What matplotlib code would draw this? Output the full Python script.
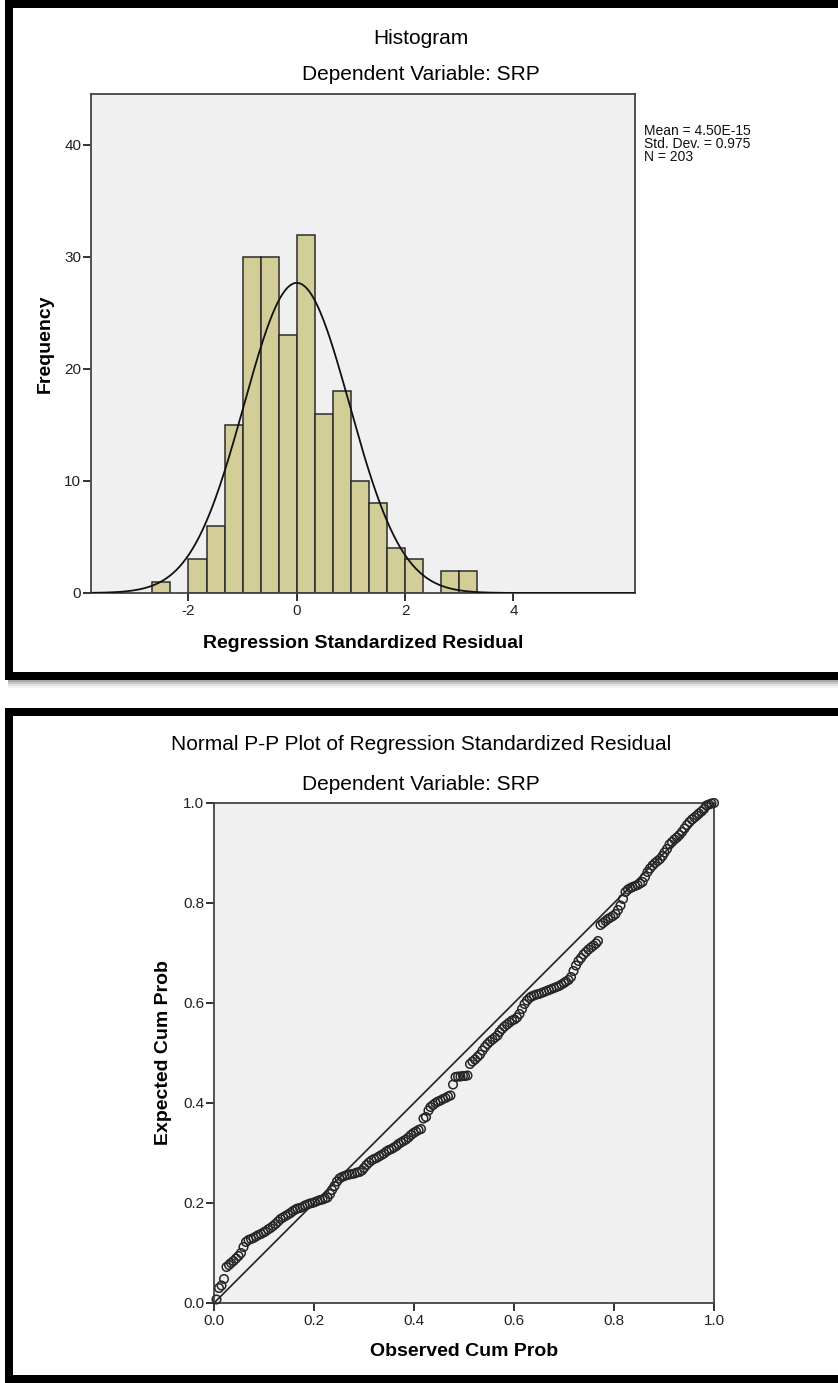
import matplotlib
matplotlib.use("Agg")
import matplotlib.pyplot as plt
from matplotlib.patches import Rectangle
from matplotlib.ticker import FormatStrFormatter
import numpy as np

plt.rcParams["font.family"] = ["Liberation Sans", "DejaVu Sans"]
plt.rcParams["axes.unicode_minus"] = False

W, H = 838, 1383

# --- histogram of regression standardized residual ---
bin_width = 1 / 3
bin_left = [-2.667, -2.333, -2.0, -1.667, -1.333, -1.0, -0.667, -0.333, 0.0,
            0.333, 0.667, 1.0, 1.333, 1.667, 2.0, 2.333, 2.667, 3.0]
counts = [1, 0, 3, 6, 15, 30, 30, 23, 32, 16, 18, 10, 8, 4, 3, 0, 2, 2]
res_mean = 4.50e-15
res_std = 0.975
n_cases = 203
hist_xticks = [-2, 0, 2, 4]
hist_yticks = [0, 10, 20, 30, 40]

# --- normal P-P plot points ---
obs_cum_prob = [
    0.005, 0.010, 0.015, 0.020, 0.025, 0.030, 0.034, 0.039, 0.044, 0.049,
    0.054, 0.059, 0.064, 0.069, 0.074, 0.079, 0.084, 0.089, 0.094, 0.099,
    0.103, 0.108, 0.113, 0.118, 0.123, 0.128, 0.133, 0.138, 0.143, 0.148,
    0.153, 0.158, 0.163, 0.167, 0.172, 0.177, 0.182, 0.187, 0.192, 0.197,
    0.202, 0.207, 0.212, 0.217, 0.222, 0.227, 0.232, 0.236, 0.241, 0.246,
    0.251, 0.256, 0.261, 0.266, 0.271, 0.276, 0.281, 0.286, 0.291, 0.296,
    0.300, 0.305, 0.310, 0.315, 0.320, 0.325, 0.330, 0.335, 0.340, 0.345,
    0.350, 0.355, 0.360, 0.365, 0.369, 0.374, 0.379, 0.384, 0.389, 0.394,
    0.399, 0.404, 0.409, 0.414, 0.419, 0.424, 0.429, 0.433, 0.438, 0.443,
    0.448, 0.453, 0.458, 0.463, 0.468, 0.473, 0.478, 0.483, 0.488, 0.493,
    0.498, 0.502, 0.507, 0.512, 0.517, 0.522, 0.527, 0.532, 0.537, 0.542,
    0.547, 0.552, 0.557, 0.562, 0.567, 0.571, 0.576, 0.581, 0.586, 0.591,
    0.596, 0.601, 0.606, 0.611, 0.616, 0.621, 0.626, 0.631, 0.635, 0.640,
    0.645, 0.650, 0.655, 0.660, 0.665, 0.670, 0.675, 0.680, 0.685, 0.690,
    0.695, 0.700, 0.704, 0.709, 0.714, 0.719, 0.724, 0.729, 0.734, 0.739,
    0.744, 0.749, 0.754, 0.759, 0.764, 0.768, 0.773, 0.778, 0.783, 0.788,
    0.793, 0.798, 0.803, 0.808, 0.813, 0.818, 0.823, 0.828, 0.833, 0.837,
    0.842, 0.847, 0.852, 0.857, 0.862, 0.867, 0.872, 0.877, 0.882, 0.887,
    0.892, 0.897, 0.901, 0.906, 0.911, 0.916, 0.921, 0.926, 0.931, 0.936,
    0.941, 0.946, 0.951, 0.956, 0.961, 0.966, 0.970, 0.975, 0.980, 0.985,
    0.990, 0.995, 1.000,
]
exp_cum_prob = [
    0.007, 0.030, 0.035, 0.048, 0.072, 0.076, 0.080, 0.084, 0.089, 0.094,
    0.100, 0.112, 0.122, 0.126, 0.128, 0.130, 0.133, 0.136, 0.138, 0.141,
    0.143, 0.147, 0.150, 0.154, 0.158, 0.163, 0.168, 0.171, 0.174, 0.177,
    0.180, 0.184, 0.187, 0.189, 0.190, 0.192, 0.195, 0.197, 0.199, 0.200,
    0.202, 0.204, 0.206, 0.207, 0.209, 0.211, 0.218, 0.226, 0.234, 0.243,
    0.249, 0.252, 0.254, 0.256, 0.257, 0.258, 0.259, 0.261, 0.262, 0.265,
    0.270, 0.276, 0.281, 0.285, 0.288, 0.290, 0.293, 0.296, 0.299, 0.303,
    0.306, 0.308, 0.311, 0.314, 0.318, 0.321, 0.324, 0.327, 0.331, 0.336,
    0.340, 0.343, 0.346, 0.348, 0.369, 0.372, 0.385, 0.392, 0.396, 0.400,
    0.403, 0.405, 0.408, 0.410, 0.413, 0.415, 0.437, 0.452, 0.453, 0.453,
    0.454, 0.454, 0.455, 0.478, 0.483, 0.487, 0.492, 0.497, 0.505, 0.512,
    0.518, 0.523, 0.527, 0.531, 0.535, 0.542, 0.548, 0.553, 0.557, 0.561,
    0.565, 0.567, 0.571, 0.578, 0.588, 0.598, 0.605, 0.610, 0.613, 0.615,
    0.617, 0.618, 0.620, 0.622, 0.624, 0.626, 0.628, 0.630, 0.632, 0.634,
    0.637, 0.640, 0.643, 0.646, 0.652, 0.664, 0.675, 0.684, 0.690, 0.697,
    0.702, 0.707, 0.711, 0.715, 0.719, 0.724, 0.756, 0.760, 0.764, 0.768,
    0.771, 0.774, 0.778, 0.786, 0.795, 0.808, 0.822, 0.827, 0.830, 0.832,
    0.834, 0.836, 0.839, 0.842, 0.852, 0.862, 0.869, 0.875, 0.880, 0.884,
    0.888, 0.894, 0.901, 0.908, 0.917, 0.922, 0.927, 0.931, 0.936, 0.942,
    0.949, 0.956, 0.962, 0.967, 0.971, 0.975, 0.979, 0.983, 0.988, 0.995,
    0.997, 0.999, 1.000,
]
pp_ticks = [0.0, 0.2, 0.4, 0.6, 0.8, 1.0]

BAR_COLOR = "#d3ce98"
PLOT_BG = "#f0f0f0"
FRAME = "#444444"


def px_rect(left, top, right, bottom):
    """Pixel box (origin at top left) to figure fraction rect."""
    return [left / W, 1 - bottom / H, (right - left) / W, (bottom - top) / H]


def px_text(x, y, s, **kw):
    fig.text(x / W, 1 - y / H, s, **kw)


def black_box(left, top, right, bottom, thick):
    for r in [(left, top, right, top + thick),
              (left, top, left + thick, bottom),
              (left, bottom - thick, right, bottom)]:
        fig.patches.append(Rectangle((r[0] / W, 1 - r[3] / H),
                                     (r[2] - r[0]) / W, (r[3] - r[1]) / H,
                                     transform=fig.transFigure,
                                     facecolor="black", edgecolor="none"))


def style_axes(ax):
    ax.set_facecolor(PLOT_BG)
    for sp in ax.spines.values():
        sp.set_color(FRAME)
        sp.set_linewidth(1.3)
    ax.tick_params(direction="out", length=6, width=1.3, pad=1,
                   labelsize=11, color="#222222", labelcolor="#222222",
                   top=False, right=False)
    ax.tick_params(axis="x", pad=2)


fig = plt.figure(figsize=(W / 100, H / 100), dpi=100)
fig.patch.set_facecolor("white")

# panel frames and their soft shadow
black_box(5, 0, 860, 680, 8)
black_box(5, 708, 860, 1383, 8)
for k, a in enumerate([0.35, 0.22, 0.12, 0.05]):
    fig.patches.append(Rectangle((8 / W, 1 - (682 + 2 * k) / H), 852 / W, 2 / H,
                                 transform=fig.transFigure,
                                 facecolor="black", alpha=a, edgecolor="none"))

# ---------------- histogram ----------------
ax1 = fig.add_axes(px_rect(91, 94, 635, 593))
style_axes(ax1)
left_nz = [l for l, c in zip(bin_left, counts) if c > 0]
cnt_nz = [c for c in counts if c > 0]
ax1.bar(left_nz, cnt_nz, width=bin_width, align="edge", color=BAR_COLOR,
        edgecolor="#2b2b2b", linewidth=1.1, zorder=2)
xs = np.linspace(-3.8, 6.25, 500)
curve = n_cases * bin_width * np.exp(-0.5 * ((xs - res_mean) / res_std) ** 2) \
    / (res_std * np.sqrt(2 * np.pi))
ax1.plot(xs, curve, color="#111111", lw=1.3, zorder=3)
ax1.set_xlim(-3.8, 6.245)
ax1.set_ylim(0, 44.55)
ax1.set_xticks(hist_xticks)
ax1.set_yticks(hist_yticks)

px_text(421, 38, "Histogram", ha="center", va="center", fontsize=15)
px_text(421, 75, "Dependent Variable: SRP", ha="center", va="center", fontsize=15)
px_text(363, 643, "Regression Standardized Residual", ha="center", va="center",
        fontsize=14, fontweight="bold")
px_text(45, 344, "Frequency", ha="center", va="center", rotation=90,
        fontsize=14, fontweight="bold")
px_text(644, 124, "Mean = 4.50E-15\nStd. Dev. = 0.975\nN = 203",
        ha="left", va="top", fontsize=10, linespacing=0.9, color="#111111")

# ---------------- normal P-P plot ----------------
ax2 = fig.add_axes(px_rect(214, 803, 714, 1303))
style_axes(ax2)
ax2.plot([0, 1], [0, 1], color="#222222", lw=1.2, zorder=2)
ax2.scatter(obs_cum_prob, exp_cum_prob, s=38, facecolors="none",
            edgecolors="#262626", linewidths=1.1, zorder=3, clip_on=False)
ax2.set_xlim(0, 1)
ax2.set_ylim(0, 1)
ax2.set_xticks(pp_ticks)
ax2.set_yticks(pp_ticks)
ax2.xaxis.set_major_formatter(FormatStrFormatter("%.1f"))
ax2.yaxis.set_major_formatter(FormatStrFormatter("%.1f"))

px_text(421, 745, "Normal P-P Plot of Regression Standardized Residual",
        ha="center", va="center", fontsize=15)
px_text(421, 785, "Dependent Variable: SRP", ha="center", va="center", fontsize=15)
px_text(464, 1352, "Observed Cum Prob", ha="center", va="center",
        fontsize=14, fontweight="bold")
px_text(163, 1053, "Expected Cum Prob", ha="center", va="center", rotation=90,
        fontsize=14, fontweight="bold")

fig.savefig("out.png", dpi=100)
